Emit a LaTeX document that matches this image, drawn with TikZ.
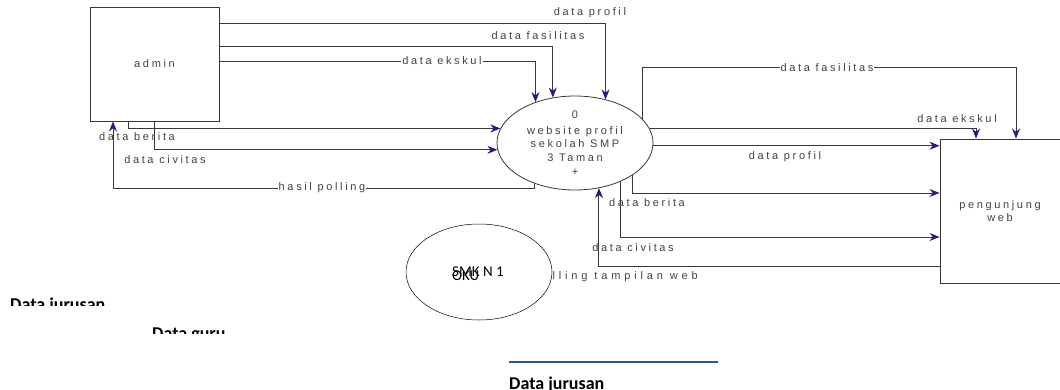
\documentclass[tikz,border=0pt]{standalone}
\usepackage{fontspec}
\setmainfont{Liberation Sans}
\newfontfamily\dfdfont[LetterSpace=24]{Liberation Sans}
\newfontfamily\dfdwide[LetterSpace=35]{Liberation Sans}
\newfontfamily\wordfont{Carlito}
\usetikzlibrary{positioning, arrows.meta, shapes.geometric}
\definecolor{garis}{RGB}{55,55,55}
\definecolor{panah}{RGB}{30,30,125}
\definecolor{teks}{RGB}{65,65,65}
\definecolor{biru}{RGB}{47,85,151}
\tikzset{
    entity/.style={draw=garis, line width=0.9pt, inner sep=0pt, align=center,
        font=\dfdfont\fontsize{11}{13}\selectfont, text=teks}, % external entity box
    proses/.style={ellipse, draw=garis, line width=0.8pt, inner sep=0pt,
        minimum width=156pt, minimum height=94pt}, % the process bubble
    flow/.style={draw=garis, line width=1pt,
        -{Stealth[length=10pt, width=8pt, color=panah]}}, % data flow
    lbl/.style={font=\dfdfont\fontsize{11}{13.5}\selectfont, text=teks, inner sep=1pt},
    lblw/.style={lbl, fill=white}, % label sitting on a line
    catatan/.style={font=\wordfont\bfseries\fontsize{18}{20}\selectfont, anchor=base west, inner sep=0pt},
}

\begin{document}
\begin{tikzpicture}[x=1pt, y=-1pt]
    \useasboundingbox (0,0) rectangle (1060,389);

    \node[entity, minimum width=129pt, minimum height=114pt] (ADMIN) at (154.5,64) {admin};
    \node[proses] (PROSES) at (575,143) {};
    \node[lbl, align=center] (PROSESTXT) at (575,143.5)
        {0\\[2pt]website profil\\sekolah SMP\\3 Taman\\[1pt]+};
    \node[entity, minimum width=120pt, minimum height=144pt] (PENGUNJUNG) at (1000,211) {pengunjung\\web};

    % admin -> proses
    \draw[flow] (ADMIN.east |- 0,23) -| (PROSES.55);
    \draw[flow] (ADMIN.east |- 0,46) -| (PROSES.116);
    \draw[flow] (ADMIN.east |- 0,61) -| (PROSES.134);
    \draw[flow] ([xshift=-26pt]ADMIN.south) |- (PROSES.169);
    \draw[flow] (ADMIN.south) |- (PROSES.185);
    \draw[flow] (PROSES.225) -- ++(0,5) -| ([xshift=-41.5pt]ADMIN.south);

    % proses -> pengunjung
    \draw[flow] (PROSES.20) -- ++(0,-51) -| ([xshift=16pt]PENGUNJUNG.north);
    \draw[flow] (PROSES.11) -| ([xshift=-24pt]PENGUNJUNG.north);
    \draw[flow] (PROSES.-2) -- (PROSES.-2 -| PENGUNJUNG.west);
    \draw[flow] (PROSES.-29) |- ([yshift=18pt]PENGUNJUNG.west);
    \draw[flow] (PROSES.-40.5) |- ([yshift=-26pt]PENGUNJUNG.west);
    \draw[flow] ([yshift=-55pt]PENGUNJUNG.west) -| (PROSES.-62);

    \node[lbl] (PROFIL1) at (590,13) {data profil};
    \node[lbl] (FASIL1) at (538,36) {data fasilitas};
    \node[lblw] (EKSKUL1) at (442,61) {data ekskul};
    \node[lbl] (BERITA1) at (137,137) {data berita};
    \node[lbl] (CIVITAS1) at (165,160) {data civitas};
    \node[lblw] (POLLING1) at (322,188) {hasil polling};
    \node[lblw] (FASIL2) at (827,68) {data fasilitas};
    \node[lbl] (EKSKUL2) at (957,119) {data ekskul};
    \node[lbl] (PROFIL2) at (785,157) {data profil};
    \node[lbl] (BERITA2) at (647,203) {data berita};
    \node[lbl] (CIVITAS2) at (633,248) {data civitas};
    \node[lbl, font=\dfdwide\fontsize{11}{13.5}\selectfont, anchor=east] (POLLING2) at (699,277) {polling tampilan web};

    % the pasted bubble on top
    \node[ellipse, draw, fill=white, line width=0.5pt, inner sep=0pt,
        minimum width=146pt, minimum height=96pt] (SMK) at (479,272) {};
    \node[font=\wordfont\fontsize{15}{18}\selectfont, anchor=base west, inner sep=0pt] (SMKA) at (452,276) {SMK N 1};
    \node[font=\wordfont\fontsize{15}{18}\selectfont, anchor=base west, inner sep=0pt] (SMKB) at (452,280) {OKU};

    \begin{scope}
        \clip (0,280) rectangle (300,305.5);
        \node[catatan] (JURUSAN1) at (10,310) {Data jurusan};
    \end{scope}
    \begin{scope}
        \clip (0,315) rectangle (300,333.5);
        \node[catatan] (GURU) at (152,339) {Data guru};
    \end{scope}
    \node[catatan] (JURUSAN2) at (509,389) {Data jurusan};
    \draw[biru, line width=1.5pt] (509,362) -- (718,362);
\end{tikzpicture}
\end{document}
